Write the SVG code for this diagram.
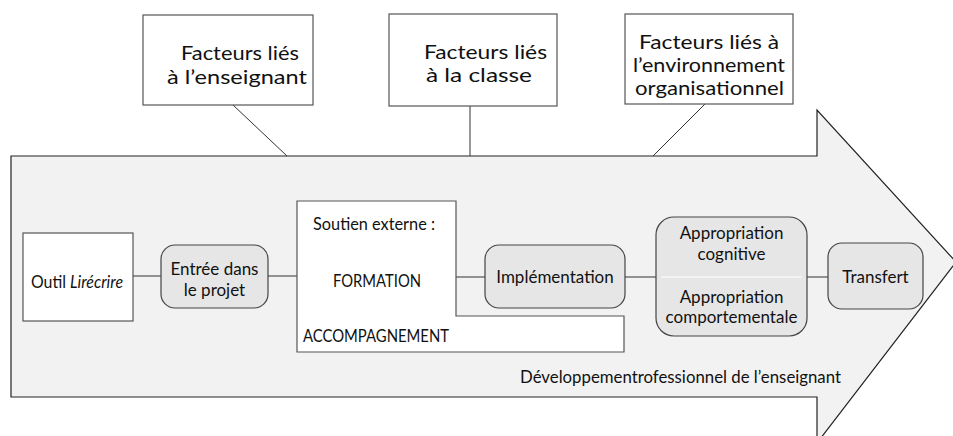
<svg xmlns="http://www.w3.org/2000/svg" width="953" height="436" viewBox="0 0 953 436">
<style>
text{font-family:Lato,"Liberation Sans",sans-serif;fill:#111}
.big{font-size:20px}
.mid{font-size:19px}
.sm{font-size:17px}
.box{fill:#fff;stroke:#555;stroke-width:1.2}
.rn{fill:#e6e6e6;stroke:#444;stroke-width:1.2}
.ln{stroke:#333;stroke-width:1;fill:none}
</style>
<rect width="953" height="436" fill="#fff"/>
<g id="arrow">
<path d="M11,156 H817 V110 L956,262 L817,443 V397 H11 Z" fill="#f2f2f2" stroke="#222" stroke-width="1.2"/>
<text class="sm" x="520" y="383" textLength="321" lengthAdjust="spacingAndGlyphs">Développementrofessionnel de l’enseignant</text>
</g>
<g id="connectors">
<line class="ln" x1="233" y1="105" x2="287" y2="156"/>
<line class="ln" x1="470" y1="106" x2="470" y2="156"/>
<line class="ln" x1="705" y1="104" x2="653" y2="156"/>
<line class="ln" x1="133" y1="276" x2="161" y2="276"/>
<line class="ln" x1="268" y1="276" x2="297" y2="276"/>
<line class="ln" x1="456" y1="277" x2="485" y2="277"/>
<line class="ln" x1="625" y1="277" x2="656" y2="277"/>
<line class="ln" x1="807" y1="277" x2="828" y2="277"/>
</g>
<g id="f1">
<rect class="box" x="143" y="15" width="170" height="90"/>
<text class="big" x="181" y="60" textLength="118" lengthAdjust="spacingAndGlyphs">Facteurs liés</text>
<text class="big" x="167" y="84" textLength="140" lengthAdjust="spacingAndGlyphs">à l’enseignant</text>
</g>
<g id="f2">
<rect class="box" x="389" y="14" width="168" height="92"/>
<text class="big" x="424" y="59" textLength="123" lengthAdjust="spacingAndGlyphs">Facteurs liés</text>
<text class="big" x="426" y="82" textLength="106" lengthAdjust="spacingAndGlyphs">à la classe</text>
</g>
<g id="f3">
<rect class="box" x="625" y="14" width="168" height="90"/>
<text class="mid" x="639" y="49" textLength="140" lengthAdjust="spacingAndGlyphs">Facteurs liés à</text>
<text class="mid" x="633" y="72" textLength="152" lengthAdjust="spacingAndGlyphs">l’environnement</text>
<text class="mid" x="635" y="95" textLength="149" lengthAdjust="spacingAndGlyphs">organisationnel</text>
</g>
<g id="outil">
<rect class="box" x="23" y="233" width="110" height="88"/>
<text class="sm" x="31" y="288" textLength="92" lengthAdjust="spacingAndGlyphs">Outil <tspan font-style="italic">Lirécrire</tspan></text>
</g>
<g id="entree">
<rect class="rn" x="161" y="245" width="107" height="63" rx="14"/>
<text class="sm" x="214.5" y="275" text-anchor="middle">Entrée dans</text>
<text class="sm" x="214.5" y="296" text-anchor="middle">le projet</text>
</g>
<g id="soutien">
<path class="box" d="M297,201 H456 V316 H624 V352 H297 Z" stroke="#333"/>
<text class="sm" x="313" y="230" textLength="122" lengthAdjust="spacingAndGlyphs">Soutien externe :</text>
<text class="sm" x="333" y="287" textLength="88" lengthAdjust="spacingAndGlyphs">FORMATION</text>
<text class="sm" x="303" y="342" textLength="146" lengthAdjust="spacingAndGlyphs">ACCOMPAGNEMENT</text>
</g>
<g id="impl">
<rect class="rn" x="485" y="245" width="140" height="63" rx="14"/>
<text class="sm" x="555" y="283" text-anchor="middle">Implémentation</text>
</g>
<g id="appro">
<rect class="rn" x="656" y="217" width="151" height="119" rx="18" stroke="#222" stroke-width="2.2"/>
<line x1="661" y1="277" x2="802" y2="277" stroke="#fff" stroke-width="1"/>
<text class="sm" x="731.5" y="239" text-anchor="middle">Appropriation</text>
<text class="sm" x="731.5" y="260" text-anchor="middle">cognitive</text>
<text class="sm" x="731.5" y="303" text-anchor="middle">Appropriation</text>
<text class="sm" x="731.5" y="323" text-anchor="middle">comportementale</text>
</g>
<g id="transfert">
<rect class="rn" x="828" y="243" width="95" height="66" rx="14"/>
<text class="sm" x="875.5" y="283" text-anchor="middle">Transfert</text>
</g>
</svg>
